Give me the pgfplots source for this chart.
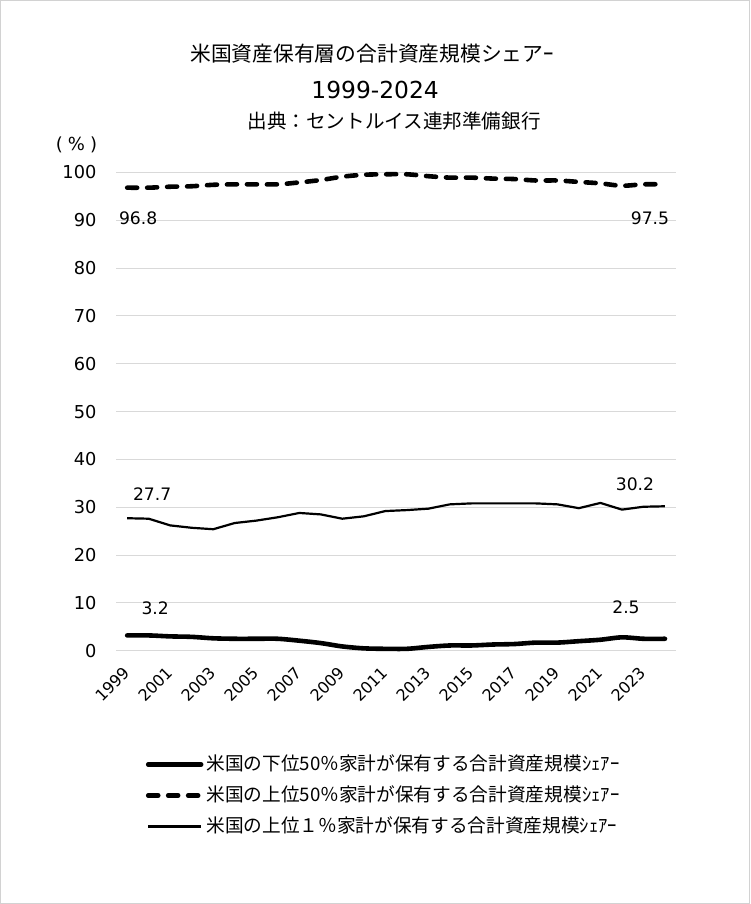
\documentclass[border=0pt]{standalone}
\usepackage{fontspec}
\setmainfont{DejaVu Sans}
\newfontfamily\jp{Noto Sans CJK JP}
\usepackage{pgfplots}
\usepackage{pgfplotstable}
\pgfplotsset{compat=1.18}

% share of total assets, percent
\pgfplotstableread{
year b50  t50   t1
1999 3.2  96.8  27.7
2000 3.2  96.8  27.6
2001 3.0  97.0  26.2
2002 2.9  97.1  25.7
2003 2.6  97.4  25.4
2004 2.5  97.5  26.7
2005 2.5  97.5  27.2
2006 2.5  97.5  27.9
2007 2.1  97.9  28.8
2008 1.6  98.4  28.5
2009 0.9  99.1  27.6
2010 0.5  99.5  28.1
2011 0.4  99.6  29.2
2012 0.4  99.6  29.4
2013 0.8  99.2  29.7
2014 1.1  98.9  30.6
2015 1.1  98.9  30.8
2016 1.3  98.7  30.8
2017 1.4  98.6  30.8
2018 1.7  98.3  30.8
2019 1.7  98.3  30.6
2020 2.0  98.0  29.8
2021 2.3  97.7  30.9
2022 2.8  97.2  29.5
2023 2.5  97.5  30.1
2024 2.5  97.5  30.2
}\shares

\newcommand{\lbl}{\fontsize{8.6}{10}\selectfont}
\pgfplotsset{
  endlabel/.style n args={2}{draw=none, mark=none, forget plot,
    nodes near coords, point meta=explicit symbolic,
    every node near coord/.style={anchor=center, inner sep=0pt,
      xshift=#1, yshift=#2, font=\lbl, text=black}}
}

\begin{document}
\begin{tikzpicture}
\draw[use as bounding box, gray!35, line width=0.6pt] (0,0) rectangle (375pt,452pt);

\node[font=\jp\fontsize{10.4}{12}\selectfont] at (186pt,425.5pt) {米国資産保有層の合計資産規模シェアｰ};
\node[font=\fontsize{11.7}{13}\selectfont] at (187.5pt,407pt) {1999-2024};
\node[font=\jp\fontsize{9.8}{11}\selectfont] at (197pt,391.5pt) {出典：セントルイス連邦準備銀行};
\node[font=\fontsize{9}{10}\selectfont] at (38pt,380pt) {(\hspace{2.5pt}\%\hspace{2.5pt})};

\begin{axis}[
  at={(58pt,126.5pt)}, anchor=south west,
  scale only axis, width=280pt, height=239.5pt,
  xmin=1998.5, xmax=2024.5,
  ymin=0, ymax=100,
  ytick={0,10,...,100},
  xtick={1999,2001,...,2023},
  ymajorgrids, grid style={gray!30, line width=0.5pt},
  axis line style={draw=none},
  major tick length=0pt,
  yticklabel style={font=\fontsize{8.9}{10}\selectfont, anchor=east, xshift=-6.5pt},
  xticklabel style={font=\fontsize{8}{9}\selectfont, xshift=2.25pt, yshift=-7pt, rotate=45, anchor=east},
  /pgf/number format/1000 sep={},
  /pgf/number format/assume math mode=true,
  legend style={at={(0.052,-0.209)}, anchor=north west, draw=none, fill=none,
    inner xsep=0pt, inner ysep=0pt, row sep=2.1pt,
    nodes={inner xsep=1.5pt},
    font=\jp\fontsize{9.35}{11}\selectfont, cells={anchor=west}},
  legend image code/.code={\draw[#1] (0pt,0pt) -- (26.5pt,0pt);},
  clip=false,
]
\addplot[black, line width=2.3pt, smooth, line cap=round] table[x=year, y=b50] {\shares};
\addplot[black, line width=2.3pt, smooth, line cap=round, dash pattern=on 5pt off 5pt] table[x=year, y=t50] {\shares};
\addplot[black, line width=1.1pt] table[x=year, y=t1] {\shares};
\legend{米国の下位50％家計が保有する合計資産規模ｼｪｱｰ,
        米国の上位50％家計が保有する合計資産規模ｼｪｱｰ,
        米国の上位１％家計が保有する合計資産規模ｼｪｱｰ}

\addplot[endlabel={5.5pt}{-15.5pt}] coordinates {(1999,96.8)[96.8]};
\addplot[endlabel={-7.5pt}{-17pt}] coordinates {(2024,97.5)[97.5]};
\addplot[endlabel={12.5pt}{12pt}] coordinates {(1999,27.7)[27.7]};
\addplot[endlabel={-15pt}{11pt}] coordinates {(2024,30.2)[30.2]};
\addplot[endlabel={14pt}{13.5pt}] coordinates {(1999,3.2)[3.2]};
\addplot[endlabel={-19.5pt}{16pt}] coordinates {(2024,2.5)[2.5]};
\end{axis}
\end{tikzpicture}
\end{document}
